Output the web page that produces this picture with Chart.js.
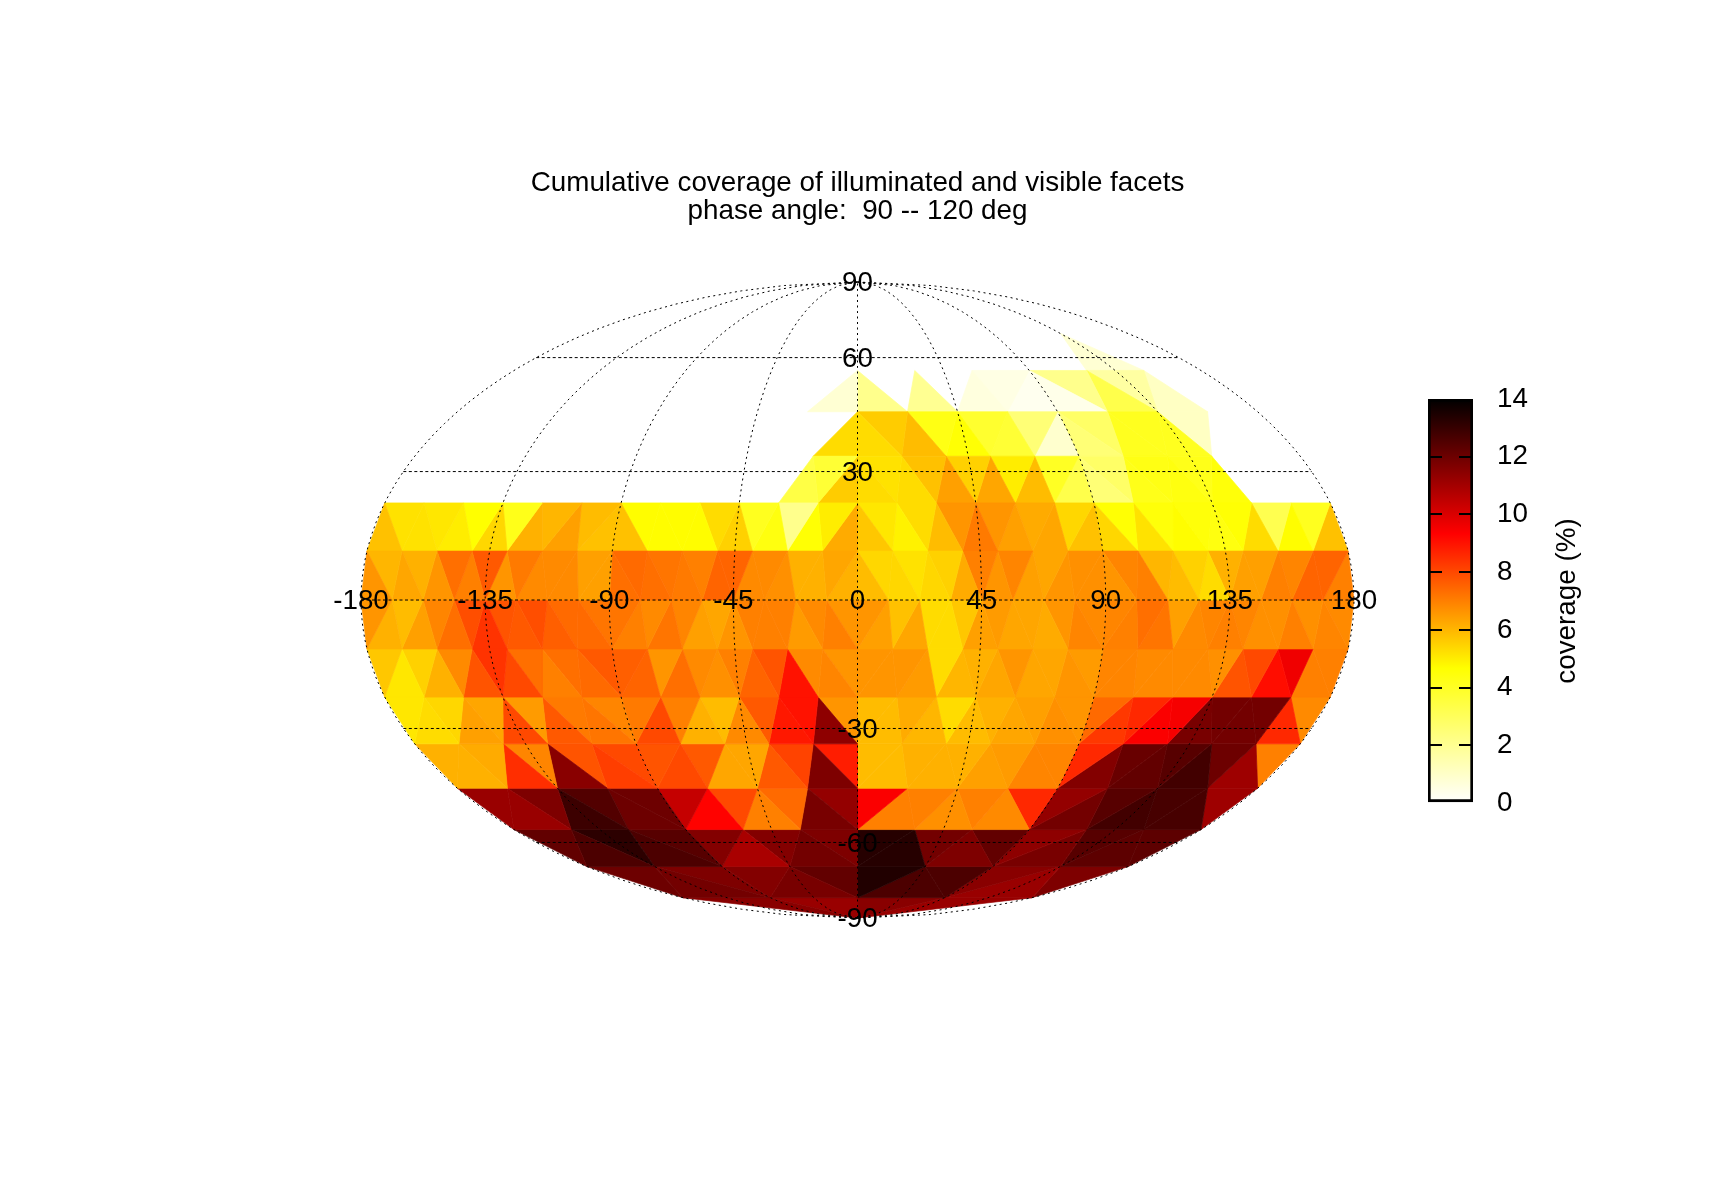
<!DOCTYPE html>
<html>
<head>
<meta charset="utf-8">
<title>Cumulative coverage</title>
<script src="https://cdn.jsdelivr.net/npm/chart.js@4/dist/chart.umd.min.js"></script>
<style>
  body { margin: 0; background: #fff; overflow: hidden; }
  canvas { position: absolute; }
  #mapChart { left: 0; top: 0; }
  #barChart { left: 1400px; top: 380px; }
</style>
</head>
<body>
<canvas id="mapChart" width="1716" height="1200"></canvas>
<canvas id="barChart" width="240" height="450"></canvas>
<script>
// coverage (%) per facet. one list per latitude band,
// west to east, null = no coverage (left white)
const north0 = [6.6,6,6.3,6.1,6.6,7.3,7,7.7,6.6,7.1,6.8,6.8,6.8,6.4,6.4, 7.3,7.4,7.3,7.2,7.1,7,7.5,7.5,6.8,6.8,6.7,6.1,6.1,6.3,6.1, 5.9,5.4,5.4,5.2,5.4,5.5,6.2,7,6.6,6.9,6.4,6.3,6.6,6.7,6.7, 6.6,6.9,7,6,5.9,5.5,5.3,6.1,6.4,6.4,7,6.9,7.5,7.5,7];
const north1 = [5.8,5.2,5.2,5.1,5,4.67,5.4,4.2,6.1,6,6.4,5.9,5.8, 5.8,4.7,4.7,4.7,4.7,5.3,5.5,4.1,4.4,2.1,4.6,5,6.2, 5.7,5.1,4.9,5.3,5.9,6.6,7.1,6.6,6.4,6.2,6.3,5.4,5.8, 5.4,4.6,5.2,4.5,4.7,4.5,4.4,4.6,5.3,3.2,4.7,4.1,5.8];
const north2 = [null,null,null,null,null,null,null,null,null,null,null, null,null,null,null,null,null,null,null,3.4,3.7,5.6, 5.3,5.2,5.3,5.8,6.4,5.5,6.3,5,5.9,4,3.3, 2.5,2.8,4.2,4.3,4.4,4.2,4.5,null,null,null,null];
const north3 = [null,null,null,null,null,null,null,null,null, null,null,null,null,null,null,null,null,5.3, 5.3,5.6,5.9,4.3,4.6,3.8,3.7,2.5,0.9, 2.5,2.8,4.1,4.1,4.1,1.1,null,null,null];
const north4 = [null,null,null,null,null,null,null, null,null,null,null,null,null,0.8, 2.1,null,2,null,0.6,0.5,0.3, 0.4,2.1,3.3,1.7,1.1,null,null];
const north5 = [null,null,null,null,null, null,null,null,null,null, null,null,null,null,null, null,null,0.8,null,null];
const north6 = [null,null,null, null,null,null, null,null,null, null,null,null];
const north7 = [null,null,null,null];
const south0 = [6.6,6.1,5.9,6.4,6.9,7.3,7.9,8.4,7.8,7.7,7.9,7.6,7.4,7.4,7.2, 7.2,7,6.8,7.2,6.9,6.4,6.3,6.6,7,7,7,6.5,6.8,7,6.6, 6.6,6.4,5.8,6.3,5.3,5.3,5.7,6.4,6.5,6.3,6.3,6.2,6.6,6.9,6.8, 6.9,7,7.3,7.2,6.4,6.8,6.9,7,6.9,6.7,6.7,7,6.7,6.9,6.8];
const south1 = [5.7,5.1,5.5,6.1,6.8,7.8,8.4,8,7.3,7,7.3,7.4,7.7, 7.6,7.5,6.6,7.3,6.8,6.7,7,7.5,7.8,9,6.8,6.9,6.6, 6.6,6.6,6.6,6.5,5.3,6,6.1,6.3,6.6,6.3,6.3,6.6,6.5, 6.9,6.9,6.8,6.8,6.8,6.8,6.7,7.8,8,9.1,9.6,7,7];
const south2 = [5.1,5.3,5.4,6.4,6.3,8,6.5,7.7,7.1,7.2,6.9, 7.1,8,7,6.1,5.9,6.8,7.7,8.9,9,11.4,6.6, 5.9,5.9,6.2,6,5.3,5.9,6.1,6.3,6.4,6.7,6.6, 7.4,8.3,8.6,9.4,9.5,11.8,11.9,11.9,11.9,8.6,6.8];
const south3 = [6.1,6.1,6.2,8.5,6.9,11.5,7.8,8.2,8, 7.8,8,7.7,6.3,6.3,7.7,8.1,11.7,8.8, 5.9,5.9,6.1,6.1,6.1,6.4,6.5,6.9,6.9, 8.6,11.6,12.1,12.2,12.4,12.8,12,11.1,7];
const south4 = [11.2,11.2,11.7,12.9,12.5,12,12, 10.4,9.3,8,7,7.4,11.8,11.3, 9.4,7,7,6.7,7,6.8,8.6, 11.3,11.9,12.4,12.8,12.7,12.7,11.1];
const south5 = [12.2,12.6,13.2,12.6,12.4, 11.6,10.9,11.6,11.9,11.7, 13.3,13.3,11.9,11.7,12.2, 11.4,11.8,12.4,12.3,12.3];
const south6 = [12,11.9,11.7, 11.6,11.8,12.2, 13.4,12.6,12.6, 11.5,11.2,11.7];
const south7 = [11.5,11.2,11.5,11.2];

const northBands = [north0,north1,north2,north3,north4,north5,north6,north7];
const southBands = [south0,south1,south2,south3,south4,south5,south6,south7];

const lonTicks = [-180,-135,-90,-45,0,45,90,135,180];
const latTicks = [-90,-60,-30,0,30,60,90];
const gridLats = [-60,-30,0,30,60];
const barTicks = [0,2,4,6,8,10,12,14];
const titleLines = ['Cumulative coverage of illuminated and visible facets','phase angle:  90 -- 120 deg'];
const barLabel = 'coverage (%)';

const FONT = '"Liberation Sans", Helvetica, Arial, sans-serif';
const FONT_SIZE = 27.8;
const COVER_MAX = 14;

// reversed "hot" map: white -> yellow -> red -> black
function coverColor(c) {
  const v = 1 - c / COVER_MAX;
  const chan = (t) => Math.round(255 * Math.max(0, Math.min(1, t)));
  return `rgb(${chan(3*v)},${chan(3*v-1)},${chan(3*v-2)})`;
}

// mollweide: x stays in degrees of the equator, y is sin(theta)
function project(lon, lat) {
  const phi = lat * Math.PI / 180;
  let t = phi;
  if (Math.abs(lat) < 90) {
    for (let i = 0; i < 30; i++) {
      t -= (2*t + Math.sin(2*t) - Math.PI*Math.sin(phi)) / (2 + 2*Math.cos(2*t));
    }
  }
  return { x: lon * Math.cos(t), y: Math.sin(t) };
}

// facets follow a subdivided octahedron: band b has 8-b steps per octant on its
// equator side, 7-b on its polar side
const BAND_DEG = 11.25;
function bandFacets(values, band, sign) {
  const k = 8 - band;
  const out = [];
  const nearLat = sign * band * BAND_DEG, farLat = sign * (band + 1) * BAND_DEG;
  const near = (o, i) => project(-180 + o*90 + i*90/k, nearLat);
  const far = (o, i) => project(k > 1 ? -180 + o*90 + i*90/(k-1) : 0, farLat);
  let n = 0;
  for (let o = 0; o < 4; o++) {
    for (let i = 0; i < k; i++) {
      out.push({ value: values[n++], pts: [near(o,i), near(o,i+1), far(o,i)] });
      if (i < k - 1) out.push({ value: values[n++], pts: [far(o,i), far(o,i+1), near(o,i+1)] });
    }
  }
  return out;
}

const facets = [];
northBands.forEach((v, b) => facets.push(...bandFacets(v, b, 1)));
southBands.forEach((v, b) => facets.push(...bandFacets(v, b, -1)));

const facetSets = facets.filter(f => f.value !== null).map(f => ({
  data: [...f.pts, f.pts[0]],
  showLine: true,
  fill: 'shape',
  backgroundColor: coverColor(f.value),
  borderColor: coverColor(f.value),
  borderWidth: 0.7,
  pointRadius: 0,
  tension: 0,
}));

// dotted graticule
const gridSets = [];
lonTicks.forEach(lon => {
  const pts = [];
  for (let lat = -90; lat <= 90; lat += 3) pts.push(project(lon, lat));
  gridSets.push({ data: pts, showLine: true, borderColor: '#000', borderWidth: 1, borderDash: [2,3.5], pointRadius: 0, fill: false });
});
gridLats.forEach(lat => {
  gridSets.push({ data: [project(-180,lat), project(180,lat)], showLine: true, borderColor: '#000', borderWidth: 1, borderDash: [3,2.5], pointRadius: 0, fill: false });
});

const mapLabels = {
  id: 'mapLabels',
  afterDatasetsDraw(chart) {
    const { ctx, scales: { x, y } } = chart;
    ctx.save();
    ctx.fillStyle = '#000';
    ctx.font = FONT_SIZE + 'px ' + FONT;
    ctx.textAlign = 'center';
    ctx.textBaseline = 'middle';
    lonTicks.forEach(lon => {
      const p = project(lon, 0);
      ctx.fillText(String(lon), x.getPixelForValue(p.x), y.getPixelForValue(p.y) + 1.5);
    });
    latTicks.filter(l => l !== 0).forEach(lat => {
      const p = project(0, lat);
      ctx.fillText(String(lat), x.getPixelForValue(p.x), y.getPixelForValue(p.y) + 1.5);
    });
    ctx.restore();
  }
};

new Chart(document.getElementById('mapChart'), {
  type: 'scatter',
  data: { datasets: [...gridSets, ...facetSets] },
  plugins: [mapLabels],
  options: {
    responsive: false,
    animation: false,
    devicePixelRatio: 1,
    clip: false,
    layout: { padding: { left: 361, right: 362, top: 0, bottom: 282 } },
    plugins: {
      legend: { display: false },
      tooltip: { enabled: false },
      title: {
        display: true,
        text: titleLines,
        color: '#000',
        font: { family: FONT, size: FONT_SIZE, weight: 'normal', lineHeight: 0.99 },
        padding: { top: 170, bottom: 57 },
      },
    },
    scales: {
      x: { type: 'linear', min: -180, max: 180, display: false },
      y: { type: 'linear', min: -1, max: 1, display: false },
    },
  },
});

const barLabelPlugin = {
  id: 'barLabel',
  afterDraw(chart) {
    const { ctx, chartArea } = chart;
    ctx.save();
    ctx.translate(167, (chartArea.top + chartArea.bottom) / 2);
    ctx.rotate(-Math.PI / 2);
    ctx.fillStyle = '#000';
    ctx.font = FONT_SIZE + 'px ' + FONT;
    ctx.textAlign = 'center';
    ctx.textBaseline = 'middle';
    ctx.fillText(barLabel, 0, 0);
    ctx.restore();
  }
};

new Chart(document.getElementById('barChart'), {
  type: 'bar',
  data: {
    labels: [barLabel],
    datasets: [{
      data: [[0, COVER_MAX]],
      barPercentage: 1,
      categoryPercentage: 1,
      borderColor: '#000',
      borderWidth: 3,
      borderSkipped: false,
      backgroundColor(context) {
        const { chart } = context;
        if (!chart.chartArea) return '#fff';
        const y = chart.scales.y;
        const g = chart.ctx.createLinearGradient(0, y.getPixelForValue(0), 0, y.getPixelForValue(COVER_MAX));
        [0, COVER_MAX/3, 2*COVER_MAX/3, COVER_MAX].forEach(c => g.addColorStop(c / COVER_MAX, coverColor(c)));
        return g;
      },
    }],
  },
  plugins: [barLabelPlugin],
  options: {
    responsive: false,
    animation: false,
    devicePixelRatio: 1,
    layout: { padding: { left: 28, right: 0, top: 19, bottom: 27 } },
    plugins: { legend: { display: false }, tooltip: { enabled: false } },
    scales: {
      x: { display: false },
      y: {
        position: 'right',
        min: 0,
        max: COVER_MAX,
        afterBuildTicks(scale) { scale.ticks = barTicks.map(v => ({ value: v })); },
        afterFit(scale) {
          scale.width = 167;
          scale.paddingTop = 0;
          scale.paddingBottom = 0;
        },
        border: { display: false, dash: [14, 17, 14] },
        grid: {
          color: (c) => (c.tick.value === 0 || c.tick.value === COVER_MAX) ? 'rgba(0,0,0,0)' : '#000',
          lineWidth: 2,
          drawTicks: false,
          z: 1,
        },
        ticks: { color: '#000', padding: 24, font: { family: FONT, size: FONT_SIZE } },
      },
    },
  },
});
</script>
</body>
</html>
